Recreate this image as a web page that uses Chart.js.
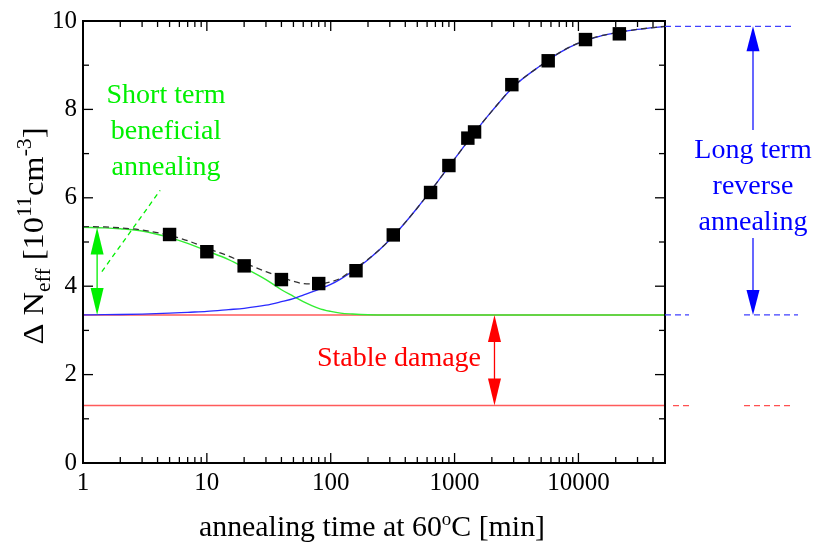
<!DOCTYPE html>
<html>
<head>
<meta charset="utf-8">
<script src="https://cdn.jsdelivr.net/npm/chart.js@4.4.1/dist/chart.umd.min.js"></script>
<style>
  html, body { margin: 0; padding: 0; background: #fff; }
  #wrap { width: 816px; height: 549px; }
</style>
</head>
<body>
<div id="wrap"><canvas id="c" width="816" height="549"></canvas></div>
<script>
// ---- data ----
const xTickLabels = [1, 10, 100, 1000, 10000];
const yTickLabels = [0, 2, 4, 6, 8, 10];

// measured points (annealing time [min], Delta Neff [1e11 cm^-3])
const measTime = [5, 10, 20, 40, 80, 160, 320, 640, 900, 1280, 1450, 2900, 5700, 11400, 21400];
const measNeff = [5.17, 4.78, 4.46, 4.15, 4.06, 4.35, 5.16, 6.12, 6.73, 7.35, 7.49, 8.56, 9.10, 9.58, 9.71];

// curves
const curveTime = [1, 1.5, 2, 3, 5, 7, 10, 15, 20, 30, 40, 50, 60, 80, 100, 120, 150, 200, 300, 500, 700, 1000, 1500, 2000, 3000, 5000, 7000, 10000, 15000, 20000, 30000, 50000];
const shortTerm = [5.33, 5.32, 5.30, 5.25, 5.10, 4.97, 4.80, 4.60, 4.42, 4.15, 3.92, 3.77, 3.65, 3.50, 3.43, 3.39, 3.37, 3.355, 3.35, 3.35, 3.35, 3.35, 3.35, 3.35, 3.35, 3.35, 3.35, 3.35, 3.35, 3.35, 3.35, 3.35];
const longTerm  = [3.35, 3.355, 3.36, 3.37, 3.39, 3.41, 3.43, 3.47, 3.50, 3.57, 3.65, 3.72, 3.80, 3.93, 4.04, 4.16, 4.34, 4.60, 5.05, 5.77, 6.30, 6.88, 7.53, 7.96, 8.52, 9.00, 9.28, 9.50, 9.66, 9.73, 9.81, 9.88];
const totalFit  = [5.35, 5.34, 5.32, 5.27, 5.15, 5.03, 4.86, 4.68, 4.53, 4.33, 4.20, 4.11, 4.06, 4.05, 4.10, 4.18, 4.37, 4.61, 5.05, 5.77, 6.30, 6.88, 7.53, 7.96, 8.52, 9.00, 9.28, 9.50, 9.66, 9.73, 9.81, 9.88];

// stable damage levels
const stableTime = [1, 50000];
const stableUpper = [3.35, 3.35];
const stableLower = [1.30, 1.30];

const pts = (xs, ys) => xs.map((v, i) => ({ x: v, y: ys[i] }));

const SERIF = 'Liberation Serif';
const GREEN = '#00f000';
const BLUE = '#0000ff';
const RED = '#ff0000';

function fontStr(size) { return size + 'px "' + SERIF + '"'; }

function drawRich(ctx, segs, x, y, targetWidth) {
  let w = 0;
  const widths = segs.map(s => { ctx.font = fontStr(s[1]); const m = ctx.measureText(s[0]).width; w += m; return m; });
  const sc = targetWidth ? targetWidth / w : 1;
  ctx.save();
  ctx.translate(x, y);
  ctx.scale(sc, 1);
  let cx = -w / 2;
  ctx.textAlign = 'left';
  ctx.textBaseline = 'alphabetic';
  segs.forEach((s, i) => {
    ctx.font = fontStr(s[1]);
    ctx.fillText(s[0], cx, s[2] || 0);
    cx += widths[i];
  });
  ctx.restore();
}

function arrowHead(ctx, x, yTip, dir, len, half) {
  ctx.beginPath();
  ctx.moveTo(x, yTip);
  ctx.lineTo(x - half, yTip - dir * len);
  ctx.lineTo(x + half, yTip - dir * len);
  ctx.closePath();
  ctx.fill();
}

function seg(ctx, x1, y1, x2, y2) {
  ctx.beginPath(); ctx.moveTo(x1, y1); ctx.lineTo(x2, y2); ctx.stroke();
}

const decor = {
  id: 'decor',
  afterDraw(chart) {
    const { ctx, chartArea: a, scales: { x, y } } = chart;
    ctx.save();
    // frame
    ctx.strokeStyle = '#000';
    ctx.lineWidth = 2;
    ctx.strokeRect(a.left, a.top, a.right - a.left, a.bottom - a.top);
    // x ticks (inward, top and bottom)
    ctx.lineWidth = 1.3;
    for (let e = 0; e <= 4; e++) {
      for (let m = 1; m <= 9; m++) {
        const v = m * Math.pow(10, e);
        if (v > 50000) break;
        const px = x.getPixelForValue(v);
        const len = m === 1 ? 10 : 6;
        seg(ctx, px, a.bottom, px, a.bottom - len);
        seg(ctx, px, a.top, px, a.top + len);
      }
    }
    // y ticks (inward, left and right)
    for (let v = 0; v <= 10; v++) {
      const py = y.getPixelForValue(v);
      const len = v % 2 === 0 ? 10 : 6;
      seg(ctx, a.left, py, a.left + len, py);
      seg(ctx, a.right, py, a.right - len, py);
    }

    // axis titles
    ctx.fillStyle = '#000';
    drawRich(ctx, [['annealing time at 60', 30, 0], ['o', 19, -11], ['C [min]', 30, 0]], (a.left + a.right) / 2 - 2, 536, 346);
    ctx.save();
    ctx.translate(43, 236);
    ctx.rotate(-Math.PI / 2);
    drawRich(ctx, [['\u0394 N', 30, 0], ['eff', 20, 7], [' [10', 30, 0], ['11', 20, -12], ['cm', 30, 0], ['-3', 20, -12], [']', 30, 0]], 0, 0, 217);
    ctx.restore();

    // ---- green: short term annealing ----
    ctx.strokeStyle = GREEN; ctx.fillStyle = GREEN; ctx.lineWidth = 1.3;
    const gx = x.getPixelForValue(1.3);
    const gTop = y.getPixelForValue(5.33), gBot = y.getPixelForValue(3.35);
    seg(ctx, gx, gTop + 20, gx, gBot - 20);
    arrowHead(ctx, gx, gTop, -1, 27, 6.5);
    arrowHead(ctx, gx, gBot, 1, 27, 6.5);
    ctx.setLineDash([5, 4]);
    seg(ctx, x.getPixelForValue(1.42), y.getPixelForValue(4.33), x.getPixelForValue(4.2), y.getPixelForValue(6.17));
    ctx.setLineDash([]);
    ctx.font = fontStr(28); ctx.textAlign = 'center'; ctx.textBaseline = 'alphabetic';
    ctx.fillText('Short term', 166, 103);
    ctx.fillText('beneficial', 166, 139);
    ctx.fillText('annealing', 166, 175);

    // ---- red: stable damage ----
    ctx.strokeStyle = RED; ctx.fillStyle = RED;
    const rx = x.getPixelForValue(2100);
    const rTop = y.getPixelForValue(3.35), rBot = y.getPixelForValue(1.3);
    seg(ctx, rx, rTop + 20, rx, rBot - 20);
    arrowHead(ctx, rx, rTop, -1, 27, 6.5);
    arrowHead(ctx, rx, rBot, 1, 27, 6.5);
    ctx.fillText('Stable damage', 399, 366);
    ctx.strokeStyle = '#ff5050'; ctx.lineWidth = 1.2; ctx.setLineDash([6, 4]);
    seg(ctx, a.right + 8, rBot, a.right + 24, rBot);
    seg(ctx, a.right + 79, rBot, a.right + 128, rBot);
    ctx.setLineDash([]);

    // ---- blue: long term reverse annealing ----
    ctx.strokeStyle = '#4040ff'; ctx.lineWidth = 1.2; ctx.setLineDash([6, 4]);
    const bTop = y.getPixelForValue(9.88), bBot = y.getPixelForValue(3.35);
    seg(ctx, a.right, bTop, a.right + 128, bTop);
    seg(ctx, a.right, bBot, a.right + 24, bBot);
    seg(ctx, a.right + 79, bBot, a.right + 133, bBot);
    ctx.setLineDash([]);
    ctx.strokeStyle = BLUE; ctx.fillStyle = BLUE;
    const bx = a.right + 88;
    seg(ctx, bx, bTop + 20, bx, 130);
    seg(ctx, bx, 238, bx, bBot - 20);
    arrowHead(ctx, bx, bTop, -1, 25, 6.5);
    arrowHead(ctx, bx, bBot, 1, 25, 6.5);
    ctx.fillText('Long term', bx, 158);
    ctx.fillText('reverse', bx, 194);
    ctx.fillText('annealing', bx, 230);

    ctx.restore();
  }
};

new Chart(document.getElementById('c'), {
  type: 'line',
  data: {
    datasets: [
      { label: 'stable upper', data: pts(stableTime, stableUpper), borderColor: '#ff5a5a', borderWidth: 1.4, pointRadius: 0, order: 6 },
      { label: 'stable lower', data: pts(stableTime, stableLower), borderColor: '#ff5a5a', borderWidth: 1.4, pointRadius: 0, order: 5 },
      { label: 'short term', data: pts(curveTime, shortTerm), borderColor: '#33ee33', borderWidth: 1.4, pointRadius: 0, cubicInterpolationMode: 'monotone', order: 4 },
      { label: 'long term', data: pts(curveTime, longTerm), borderColor: '#2a2aff', borderWidth: 1.3, pointRadius: 0, cubicInterpolationMode: 'monotone', order: 3 },
      { label: 'total', data: pts(curveTime, totalFit), borderColor: '#333', borderWidth: 1.3, borderDash: [6, 4], pointRadius: 0, cubicInterpolationMode: 'monotone', order: 2 },
      { label: 'data', data: pts(measTime, measNeff), showLine: false, pointStyle: 'rect', pointRadius: 9.5, pointBackgroundColor: '#000', pointBorderColor: '#000', pointBorderWidth: 0, order: 1 }
    ]
  },
  options: {
    responsive: false,
    animation: false,
    events: [],
    layout: { padding: { left: 0, right: 151, top: 17, bottom: 0 } },
    plugins: { legend: { display: false }, tooltip: { enabled: false } },
    scales: {
      x: {
        type: 'logarithmic', min: 1, max: 50000,
        afterFit: s => { s.height = 86; },
        grid: { display: false, drawTicks: false },
        border: { display: false },
        ticks: {
          autoSkip: false, maxRotation: 0, minRotation: 0, padding: 5, color: '#000',
          font: { family: SERIF, size: 25 },
          callback: v => { const l = xTickLabels.find(t => Math.abs(v / t - 1) < 1e-6); return l ? String(l) : ''; }
        }
      },
      y: {
        min: 0, max: 10,
        afterFit: s => { s.width = 83; },
        grid: { display: false, drawTicks: false },
        border: { display: false },
        ticks: {
          stepSize: 2, padding: 6, color: '#000',
          font: { family: SERIF, size: 25 },
          callback: v => yTickLabels.includes(v) ? String(v) : ''
        }
      }
    }
  },
  plugins: [decor]
});
</script>
</body>
</html>
